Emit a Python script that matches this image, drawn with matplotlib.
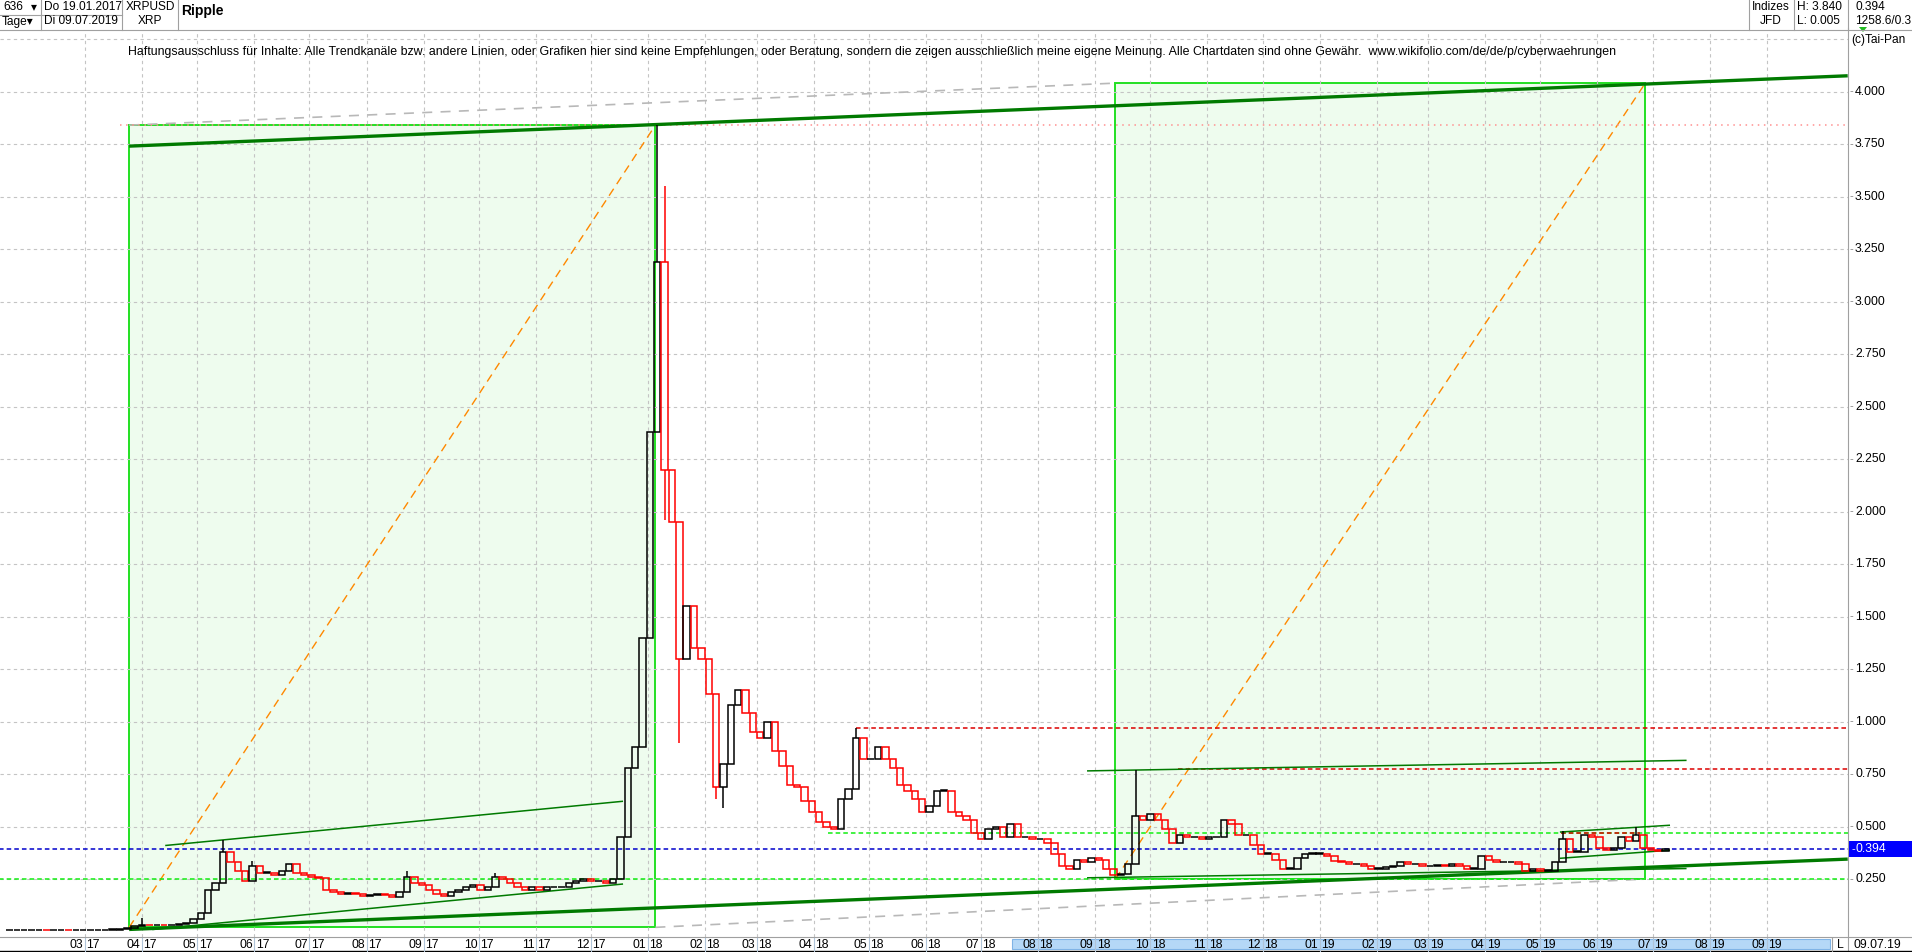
import datetime as dt
import matplotlib
matplotlib.use("Agg")
import matplotlib.pyplot as plt
import matplotlib.dates as mdates
import matplotlib.transforms as mtransforms
from matplotlib.patches import Rectangle, Polygon
from matplotlib.lines import Line2D

plt.rcParams['font.family'] = ['Liberation Sans', 'DejaVu Sans']

W, H = 1912, 952

# candles: one every 4 days from 19.01.2017, closes
start_date = dt.date(2017, 1, 19)
step_days = 4

closes_2017 = [0.0065, 0.0065, 0.0066, 0.0066, 0.0068, 0.0067, 0.0068, 0.0070, 0.0068, 0.0069,
               0.0070, 0.0072, 0.0075, 0.008, 0.009, 0.011, 0.015, 0.025,
               0.032, 0.030, 0.031, 0.030, 0.032, 0.035, 0.040, 0.060, 0.090,
               0.20, 0.23, 0.38, 0.33, 0.29, 0.24, 0.31, 0.28, 0.28, 0.27, 0.29, 0.32, 0.28, 0.27, 0.26, 0.255,
               0.20, 0.19, 0.18, 0.185, 0.18, 0.17, 0.175, 0.18, 0.175, 0.165, 0.19, 0.26, 0.23, 0.22,
               0.20, 0.18, 0.17, 0.19, 0.20, 0.21, 0.22, 0.20, 0.21,
               0.26, 0.25, 0.23, 0.21, 0.20, 0.21, 0.20, 0.21, 0.21, 0.21, 0.23, 0.24, 0.25, 0.24, 0.24,
               0.23, 0.25, 0.45, 0.78, 0.88, 1.40]
closes_2018 = [2.38, 3.19, 2.20, 1.95, 1.30, 1.55, 1.35, 1.30, 1.13, 0.69, 0.80, 1.08, 1.15,
               1.04, 0.95, 0.92, 1.00, 0.86, 0.79, 0.70, 0.69, 0.62, 0.57, 0.52, 0.50, 0.49,
               0.63, 0.68, 0.92, 0.82, 0.82, 0.88, 0.82, 0.78, 0.70, 0.67, 0.63, 0.57, 0.60,
               0.67, 0.67, 0.57, 0.55, 0.53, 0.47, 0.44, 0.49, 0.50, 0.45, 0.51, 0.45, 0.45, 0.44, 0.44,
               0.42, 0.37, 0.31, 0.30, 0.34, 0.33, 0.35, 0.34, 0.30, 0.27, 0.275, 0.32, 0.55,
               0.53, 0.56, 0.53, 0.49, 0.42, 0.46, 0.45, 0.45, 0.44, 0.45, 0.45, 0.53, 0.51,
               0.46, 0.46, 0.41, 0.37, 0.37, 0.34, 0.30, 0.30, 0.35, 0.37, 0.37]
closes_2019 = [0.37, 0.36, 0.335, 0.33, 0.32, 0.32, 0.31, 0.30, 0.30, 0.305, 0.31, 0.33, 0.32,
               0.32, 0.31, 0.31, 0.315, 0.31, 0.32, 0.31, 0.30, 0.30, 0.36, 0.34, 0.33, 0.33,
               0.33, 0.32, 0.29, 0.30, 0.29, 0.29, 0.33, 0.44, 0.38, 0.38, 0.46, 0.45,
               0.40, 0.39, 0.40, 0.45, 0.43, 0.46, 0.40, 0.39, 0.385, 0.394]

# candles with visible shadows: index, high, low
wick_idx = [18, 29, 33, 54, 66, 88, 89, 91, 96, 97, 115, 153, 211, 221]
wick_high = [0.065, 0.435, 0.335, 0.29, 0.28, 3.84, 3.55, None, None, None, 0.97, 0.77, 0.48, 0.50]
wick_low = [None, None, None, None, None, None, 1.96, 0.90, 0.63, 0.59, None, None, None, None]

last_price = 0.394
y_ticks = [0.25 * i for i in range(1, 17)]
grid_levels = [0.25 * i for i in range(1, 18)]

# drawn objects (date, value)
boxes = [(dt.date(2017, 3, 25), 0.02, dt.date(2018, 1, 5), 3.84),
         (dt.date(2018, 9, 12), 0.25, dt.date(2019, 6, 27), 4.04)]
thick_lines = [((dt.date(2017, 3, 25), 3.74), (dt.date(2019, 10, 15), 4.075)),
               ((dt.date(2017, 3, 25), 0.01), (dt.date(2019, 10, 15), 0.345))]
thin_lines = [((dt.date(2017, 4, 14), 0.41), (dt.date(2017, 12, 18), 0.62)),
              ((dt.date(2017, 4, 7), 0.01), (dt.date(2017, 12, 18), 0.226)),
              ((dt.date(2018, 8, 28), 0.765), (dt.date(2019, 7, 19), 0.815)),
              ((dt.date(2018, 8, 28), 0.256), (dt.date(2019, 7, 19), 0.30)),
              ((dt.date(2019, 5, 12), 0.474), (dt.date(2019, 7, 10), 0.506)),
              ((dt.date(2019, 5, 12), 0.349), (dt.date(2019, 7, 10), 0.387))]
gray_lines = [((dt.date(2017, 3, 25), 3.84), (dt.date(2018, 9, 12), 4.04)),
              ((dt.date(2018, 1, 5), 0.02), (dt.date(2019, 6, 27), 0.25))]
# horizontal marks: value, start date, colour, style
levels = [(0.394, dt.date(2017, 1, 1), '#0000cc', (0, (3, 2))),
          (0.25, dt.date(2017, 1, 1), '#11ee11', (0, (3, 2))),
          (0.471, dt.date(2018, 4, 9), '#11ee11', (0, (3, 2))),
          (0.967, dt.date(2018, 4, 24), '#dd0000', (0, (3, 2))),
          (0.772, dt.date(2018, 10, 16), '#dd0000', (0, (3, 2))),
          (3.84, dt.date(2017, 3, 20), '#ff9090', (0, (1, 3)))]

closes = closes_2017 + closes_2018 + closes_2019
dates = [start_date + dt.timedelta(days=step_days * i) for i in range(len(closes))]
x = mdates.date2num(dates)
opens = [closes[0]] + closes[:-1]

fig = plt.figure(figsize=(W / 100, H / 100), dpi=100)
ax_top, ax_bot, ax_right = 30, 937, 1848
ax = fig.add_axes([0, (H - ax_bot) / H, ax_right / W, (ax_bot - ax_top) / H])

x_ref = mdates.date2num(dt.date(2017, 3, 1))
px_per_day = 1.84
ax.set_xlim(x_ref - 85 / px_per_day, x_ref + (ax_right - 85) / px_per_day)
ax.set_ylim(-0.026, 4.293)
for s in ax.spines.values():
    s.set_visible(False)
ax.set_xticks([])
ax.set_yticks([])

# grid
grid_kw = dict(color='#c4c4c4', lw=0.8, ls=(0, (3, 3)), zorder=1)
for v in grid_levels:
    ax.axhline(v, **grid_kw)
months = []
y, m = 2017, 3
while (y, m) <= (2019, 9):
    months.append(dt.date(y, m, 1))
    m += 1
    if m > 12:
        y, m = y + 1, 1
for d in months:
    ax.axvline(mdates.date2num(d), **grid_kw)

# boxes with diagonals
for d0, v0, d1, v1 in boxes:
    a, b = mdates.date2num(d0), mdates.date2num(d1)
    ax.add_patch(Rectangle((a, v0), b - a, v1 - v0, facecolor='#eefcee', edgecolor='#22e022',
                           lw=1.4, zorder=0.5))
    ax.plot([a, b], [v0, v1], color='#ff8800', lw=1.0, ls=(0, (6, 4)), zorder=2)

for (d0, v0), (d1, v1) in gray_lines:
    ax.plot(mdates.date2num([d0, d1]), [v0, v1], color='#b8b8b8', lw=1.2, ls=(0, (6, 5)), zorder=2)

for v, d0, c, ls in levels:
    ax.plot([mdates.date2num(d0), ax.get_xlim()[1]], [v, v], color=c, lw=1.1, ls=ls, zorder=3)
ax.plot(mdates.date2num([dt.date(2019, 5, 12), dt.date(2019, 6, 24)]), [0.47, 0.47],
        color='#dd0000', lw=1.1, ls=(0, (3, 2)), zorder=3)

for (d0, v0), (d1, v1) in thick_lines:
    ax.plot(mdates.date2num([d0, d1]), [v0, v1], color='#007a00', lw=2.4, zorder=4,
            solid_capstyle='butt')
for (d0, v0), (d1, v1) in thin_lines:
    ax.plot(mdates.date2num([d0, d1]), [v0, v1], color='#007a00', lw=1.1, zorder=4)

# candles
colors = ['black' if c >= o else '#ff0000' for o, c in zip(opens, closes)]
bottoms = [min(o, c) for o, c in zip(opens, closes)]
heights = [max(abs(c - o), 0.002) for o, c in zip(opens, closes)]
ax.bar(x, heights, width=3.5, bottom=bottoms, facecolor='none', edgecolor=colors,
       linewidth=1.1, zorder=5)
for i, hi, lo in zip(wick_idx, wick_high, wick_low):
    top, bot = max(opens[i], closes[i]), min(opens[i], closes[i])
    if hi is not None:
        ax.vlines(x[i], top, hi, color=colors[i], lw=1.1, zorder=5)
    if lo is not None:
        ax.vlines(x[i], lo, bot, color=colors[i], lw=1.1, zorder=5)


def fx(px):
    return px / W


def fy(py):
    return 1 - py / H


def fline(xs, ys, c='#a0a0a0', lw=0.8):
    fig.add_artist(Line2D([fx(v) for v in xs], [fy(v) for v in ys], color=c, lw=lw))


# right axis labels
blend = mtransforms.blended_transform_factory(fig.transFigure, ax.transData)
fline([ax_right, ax_right], [ax_top - 2, H])
for v in y_ticks:
    fig.text(fx(ax_right + 1), v, '-', transform=blend, va='center', ha='left', fontsize=8,
             color='#808080')
    fig.text(fx(1855), v, f'{v:.3f}', transform=blend, va='center', ha='left', fontsize=8.8)
box_h = 16 / 210
fig.add_artist(Rectangle((fx(ax_right + 1), last_price - box_h / 2), fx(W - ax_right), box_h,
                         transform=blend, facecolor='#0000ff', edgecolor='none', zorder=6))
fig.text(fx(ax_right + 3), last_price, '-', transform=blend, va='center', ha='left', fontsize=8,
         color='white', zorder=7)
fig.text(fx(1855), last_price, f'{last_price:.3f}', transform=blend, va='center', ha='left',
         fontsize=8.8, color='white', zorder=7)

# bottom month band
fline([0, W], [ax_bot, ax_bot])
fline([0, W], [951, 951], c='black', lw=1.0)
band_x0 = mdates.date2num(dt.date(2018, 7, 18))
xt = mtransforms.blended_transform_factory(ax.transData, fig.transFigure)
fig.add_artist(Rectangle((band_x0, fy(949)), ax.get_xlim()[1] - 18 / px_per_day - band_x0,
                         fy(939) - fy(949), transform=xt, facecolor='#b5d8f7',
                         edgecolor='#80b4e6', lw=0.8))
for d in months:
    xm = mdates.date2num(d)
    fig.add_artist(Line2D([xm, xm], [fy(938), fy(951)], transform=xt, color='#b0c4d8', lw=0.8))
    fig.text(xm - 1.5 / px_per_day, fy(944.5), f'{d.month:02d}', transform=xt, ha='right',
             va='center', fontsize=8.8)
    fig.text(xm + 1.5 / px_per_day, fy(944.5), f'{d.year % 100:02d}', transform=xt, ha='left',
             va='center', fontsize=8.8)
fline([1832, 1832], [938, 951])
fig.text(fx(1840), fy(944.5), 'L', ha='center', va='center', fontsize=8.8)
fig.text(fx(1854), fy(944.5), '09.07.19', ha='left', va='center', fontsize=8.8)

# header
fline([0, W], [29.5, 29.5])
fline([0, 122], [14.5, 14.5])
for xv in [41, 122, 178, 1749, 1794, 1848]:
    fline([xv, xv], [0, 29.5])
hdr = dict(va='center', fontsize=8.6)
fig.text(fx(3), fy(7), '636', ha='left', **hdr)
fig.text(fx(31), fy(7), '▾', ha='left', **hdr)
fig.text(fx(2), fy(21.5), 'Tage▾', ha='left', **hdr)
fig.text(fx(44), fy(7), 'Do 19.01.2017', ha='left', **hdr)
fig.text(fx(44), fy(21.5), 'Di 09.07.2019', ha='left', **hdr)
fig.text(fx(150), fy(7), 'XRPUSD', ha='center', **hdr)
fig.text(fx(150), fy(21.5), 'XRP', ha='center', **hdr)
fig.text(fx(181), fy(11), 'Ripple', ha='left', va='center', fontsize=10, fontweight='bold')
fig.text(fx(1771), fy(7), 'Indizes', ha='center', **hdr)
fig.text(fx(1771), fy(21.5), 'JFD', ha='center', **hdr)
fig.text(fx(1797), fy(7), 'H: 3.840', ha='left', **hdr)
fig.text(fx(1797), fy(21.5), 'L: 0.005', ha='left', **hdr)
fig.text(fx(1855), fy(7), '0.394', ha='left', **hdr)
fig.text(fx(1855), fy(21.5), '1258.6/0.3', ha='left', **hdr)
fig.add_artist(Polygon([[fx(1859), fy(27)], [fx(1867), fy(27)], [fx(1863), fy(32)]],
                       closed=True, facecolor='#22bb22', edgecolor='none'))

fig.text(fx(1851), fy(40), '(c)Tai-Pan', ha='left', va='center', fontsize=8.6,
         bbox=dict(facecolor='white', edgecolor='none', pad=0.5))
fig.text(fx(128), fy(52), 'Haftungsausschluss für Inhalte: Alle Trendkanäle bzw. andere Linien, '
         'oder Grafiken hier sind keine Empfehlungen, oder Beratung, sondern die zeigen '
         'ausschließlich meine eigene Meinung. Alle Chartdaten sind ohne Gewähr.  '
         'www.wikifolio.com/de/de/p/cyberwaehrungen', ha='left', va='center', fontsize=8.9)

fig.savefig('out.png', dpi=100)
